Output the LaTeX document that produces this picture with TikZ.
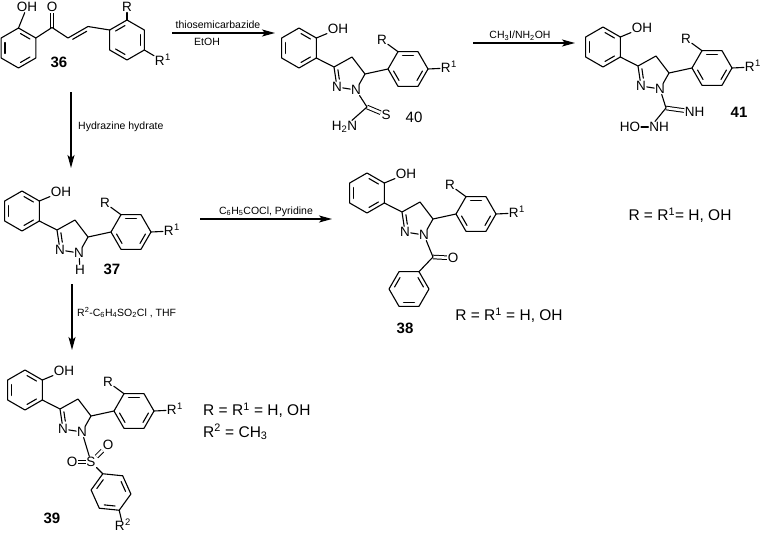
\documentclass[tikz,border=0pt]{standalone}
\usepackage{fontspec}
\setmainfont{Liberation Sans}
\usetikzlibrary{arrows.meta}

\newcommand\atomfont{\fontsize{13.5}{14}\selectfont}
\newcommand\cmpdfont{\fontsize{15}{16}\selectfont\bfseries}
\newcommand\cmpdregfont{\fontsize{15}{16}\selectfont}
\newcommand\reagfont{\fontsize{10.5}{12}\selectfont}
\newcommand\legfont{\fontsize{15.5}{17}\selectfont}

\tikzset{
  bond/.style={line width=1.1pt, line cap=round, line join=round},
  dbl/.style={line width=1.0pt, double distance=2.6pt, line cap=butt, double=white},
  atom/.style={inner sep=0.9pt, outer sep=0pt, font=\atomfont},
  cmpd/.style={inner sep=0pt, font=\cmpdfont},
  cmpdreg/.style={inner sep=0pt, font=\cmpdregfont},
  reag/.style={inner sep=0pt, font=\reagfont},
  legend/.style={inner sep=0pt, font=\legfont},
  rxn/.style={line width=1.1pt, -{Stealth[length=13pt,width=7pt,inset=3pt]}},
}

% hexagon: cx, cy, start angle, bond length, list of inner double edges
\newcommand\hexring[5]{%
  \draw[bond] ({#1+#4*cos(#3)},{#2+#4*sin(#3)})
    -- ({#1+#4*cos(#3+60)},{#2+#4*sin(#3+60)})
    -- ({#1+#4*cos(#3+120)},{#2+#4*sin(#3+120)})
    -- ({#1+#4*cos(#3+180)},{#2+#4*sin(#3+180)})
    -- ({#1+#4*cos(#3+240)},{#2+#4*sin(#3+240)})
    -- ({#1+#4*cos(#3+300)},{#2+#4*sin(#3+300)}) -- cycle;
  \foreach \e in {#5}{%
    \draw[bond] ({#1+0.78*#4*(0.85*cos(#3+60*\e)+0.15*cos(#3+60*\e+60))},{#2+0.78*#4*(0.85*sin(#3+60*\e)+0.15*sin(#3+60*\e+60))})
      -- ({#1+0.78*#4*(0.15*cos(#3+60*\e)+0.85*cos(#3+60*\e+60))},{#2+0.78*#4*(0.15*sin(#3+60*\e)+0.85*sin(#3+60*\e+60))});
  }%
}

% pyrazoline scaffold: prefix, position of N2
\newcommand\pyrcore[3]{%
  \node[atom] (#1n2) at (#2,#3) {N};
  \node[atom] (#1n1) at ({#2+19},{#3+3}) {N};
  \coordinate (#1c3) at ({#2-3},{#3-20});
  \coordinate (#1c4) at ({#2+15},{#3-30});
  \coordinate (#1c5) at ({#2+28},{#3-13});
  \draw[bond] (#1n2) -- (#1c3) -- (#1c4) -- (#1c5) -- (#1n1);
  \draw[bond] (#1n1) -- (#1n2);
  \draw[bond] ({#2+0.9},{#3-17.3}) -- ({#2+2.3},{#3-7.8});
  \hexring{#2-38}{#3-39}{-90}{20}{0,2,4}
  \coordinate (#1plr) at ({#2-20.68},{#3-29});
  \coordinate (#1pur) at ({#2-20.68},{#3-49});
  \draw[bond] (#1plr) -- (#1c3);
  \node[atom] (#1oh) at ({#2+1},{#3-58}) {OH};
  \draw[bond] (#1pur) -- (#1oh);
  \hexring{#2+71}{#3-18}{0}{20}{0,2,4}
  \coordinate (#1ai) at ({#2+51},{#3-18});
  \coordinate (#1aul) at ({#2+61},{#3-35.32});
  \coordinate (#1ar) at ({#2+91},{#3-18});
  \draw[bond] (#1c5) -- (#1ai);
  \node[atom] (#1r) at ({#2+45},{#3-47}) {R};
  \draw[bond] (#1aul) -- (#1r);
  \node[atom,anchor=west] (#1ra) at ({#2+103},{#3-19}) {R\smash{\textsuperscript{\kern0.5pt 1}}};
  \draw[bond] (#1ar) -- (#1ra);
}

\begin{document}
\begin{tikzpicture}[x=1pt,y=-1pt]
\useasboundingbox (0,0) rectangle (764,536);

% ---------- 36 ----------
\hexring{18.5}{48}{-90}{20}{0,2,4}
\node[atom] (oh36) at (27,7) {OH};
\coordinate (p36t) at (18.5,28);
\draw[bond] (p36t) -- (oh36);
\coordinate (p36ur) at (35.82,38);
\coordinate (co36) at (52,27.5);
\node[atom] (o36) at (52,7) {O};
\draw[dbl] (co36) -- (o36);
\coordinate (al36) at (68,38);
\coordinate (be36) at (88,26.5);
\draw[bond] (p36ur) -- (co36) -- (al36) -- (be36);
\draw[bond] (72.7,39.3) -- (86.7,31.3);
\hexring{127}{40}{-90}{20}{1,3,5}
\coordinate (a36i) at (109.68,30);
\coordinate (a36t) at (127,20);
\coordinate (a36lr) at (144.32,50);
\draw[bond] (be36) -- (a36i);
\node[atom] (r36) at (127,7) {R};
\draw[bond] (a36t) -- (r36);
\node[atom,anchor=west] (ra36) at (154,61) {R\smash{\textsuperscript{\kern0.5pt 1}}};
\draw[bond] (a36lr) -- (ra36);
\node[cmpd] (n36) at (59,62) {36};

% ---------- 40 ----------
\pyrcore{b}{337}{87}
\coordinate (bc) at (367,107);
\node[atom] (bs) at (386,115) {S};
\node[atom,anchor=east] (bnh) at (358,127) {H\textsubscript{2}N};
\draw[dbl] (bc) -- (bs);
\draw[bond] (bn1) -- (bc) -- (bnh);
\node[cmpdreg] (n40) at (414,117) {40};

% ---------- 41 ----------
\pyrcore{c}{641}{86}
\coordinate (cc) at (666,108);
\node[atom,anchor=west] (cnh) at (684,112) {NH};
\draw[dbl] (cc) -- (cnh);
\node[atom] (cnh2) at (659,127) {NH};
\node[atom] (cho) at (630,127) {HO};
\draw[bond] (cn1) -- (cc) -- ([xshift=-4pt]cnh2.north);
\draw[bond] (cho) -- (cnh2);
\node[cmpd] (n41) at (739,112) {41};
\node[legend] (leg41) at (680,215) {R = R\textsuperscript{1}= H, OH};

% ---------- 37 ----------
\pyrcore{a}{60}{250}
\node[atom] (ah) at (80,270) {H};
\draw[bond] (an1) -- (ah);
\node[cmpd] (n37) at (112,269) {37};

% ---------- 38 ----------
\pyrcore{d}{405}{232}
\coordinate (dc) at (433,257);
\node[atom] (do) at (453,258) {O};
\draw[dbl] (dc) -- (do);
\hexring{409}{289}{0}{20}{1,3,5}
\coordinate (di) at (419,271.68);
\draw[bond] (dn1) -- (dc) -- (di);
\node[cmpd] (n38) at (405,328) {38};
\node[legend] (leg38) at (509,315) {R = R\textsuperscript{1} = H, OH};

% ---------- 39 ----------
\pyrcore{e}{63}{429}
\node[atom] (es) at (91,462) {S};
\node[atom] (eo1) at (108,445) {O};
\node[atom] (eo2) at (72,462) {O};
\draw[dbl] (es) -- (eo1);
\draw[dbl] (eo2) -- (es);
\hexring{111}{492}{245.8}{20}{1,3,5}
\coordinate (ei) at (102.8,473.8);
\coordinate (ep) at (119.2,510.2);
\draw[bond] (en1) -- (es) -- (ei);
\node[atom,anchor=west] (er2) at (114,526) {R\smash{\textsuperscript{\kern0.5pt 2}}};
\draw[bond] (ep) -- (er2);
\node[cmpd] (n39) at (52,518) {39};
\node[legend,anchor=west] (leg39a) at (203,410) {R = R\textsuperscript{1} = H, OH};
\node[legend,anchor=west] (leg39b) at (203,432) {R\textsuperscript{2} = CH\textsubscript{3}};

% ---------- arrows ----------
\coordinate (a1s) at (172,33); \coordinate (a1e) at (275,33);
\draw[rxn] (a1s) -- (a1e);
\node[reag,anchor=base] (t1a) at (218,28.5) {thiosemicarbazide};
\node[reag,anchor=base] (t1b) at (207,45.5) {EtOH};

\coordinate (a2s) at (473,43); \coordinate (a2e) at (575,43);
\draw[rxn] (a2s) -- (a2e);
\node[reag,anchor=base] (t2) at (520,38.5) {CH\textsubscript{3}I/NH\textsubscript{2}OH};

\coordinate (a3s) at (71,92); \coordinate (a3e) at (71,168);
\draw[rxn] (a3s) -- (a3e);
\node[reag,anchor=base west] (t3) at (78,129) {Hydrazine hydrate};

\coordinate (a4s) at (200,219); \coordinate (a4e) at (332,219);
\draw[rxn] (a4s) -- (a4e);
\node[reag,anchor=base] (t4) at (266,214) {C\textsubscript{6}H\textsubscript{5}COCl, Pyridine};

\coordinate (a5s) at (72,284); \coordinate (a5e) at (72,350);
\draw[rxn] (a5s) -- (a5e);
\node[reag,anchor=base west] (t5) at (77,316) {R\textsuperscript{2}-C\textsubscript{6}H\textsubscript{4}SO\textsubscript{2}Cl , THF};

\end{tikzpicture}
\end{document}
